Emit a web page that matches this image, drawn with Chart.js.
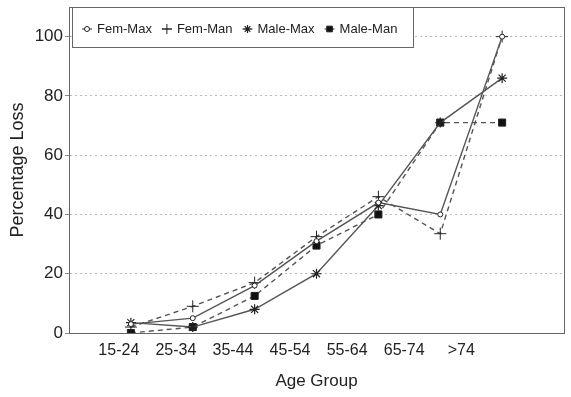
<!DOCTYPE html>
<html>
<head>
<meta charset="utf-8">
<script src="https://cdn.jsdelivr.net/npm/chart.js@4/dist/chart.umd.min.js"></script>
<style>
  html, body { margin: 0; padding: 0; background: #fff; }
  #wrap { width: 571px; height: 397px; }
</style>
</head>
<body>
<div id="wrap"><canvas id="mycanvas" width="571" height="397"></canvas></div>
<script>
// data
var ageGroups = ["15-24", "25-34", "35-44", "45-54", "55-64", "65-74", ">74"];
var femMax  = [3, 5, 16, 31, 44, 40, 100];
var femMan  = [2, 9, 17, 32.5, 46, 33.5, 100];
var maleMax = [3.5, 2, 8, 20, 43, 71, 86];
var maleMan = [0, 2, 12.5, 29.5, 40, 71, 71];
var yTicks  = [0, 20, 40, 60, 80, 100];

var FONT = "'Liberation Sans', Arial, Helvetica, sans-serif";
var INK = "#222";
var LINE = "#555";

function pts(arr) {
	return arr.map(function(v, i) { return {x: i, y: v}; });
}

var series = [
	{label: "Fem-Max",  data: femMax,  dash: [],     style: "circle", r: 2.5, fill: "#fff", bw: 1},
	{label: "Fem-Man",  data: femMan,  dash: [5, 4], style: "cross",  r: 6,   fill: "#333", bw: 1},
	{label: "Male-Max", data: maleMax, dash: [],     style: "star",   r: 5,   fill: "#333", bw: 1.2},
	{label: "Male-Man", data: maleMan, dash: [5, 4], style: "rect",   r: 5,   fill: "#111", bw: 1}
];

var datasets = series.map(function(s) {
	return {
		label: s.label,
		data: pts(s.data),
		borderColor: LINE,
		borderWidth: 1.4,
		borderDash: s.dash,
		tension: 0,
		pointStyle: s.style,
		pointRadius: s.r,
		pointBackgroundColor: s.fill,
		pointBorderColor: "#222",
		pointBorderWidth: s.bw,
		fill: false
	};
});

// box round the plot, and the boxed legend in its top-left corner
var framePlugin = {
	id: "frame",
	afterDraw: function(chart) {
		var ctx = chart.ctx, a = chart.chartArea;
		ctx.save();
		ctx.strokeStyle = "#666";
		ctx.lineWidth = 1;
		ctx.setLineDash([]);
		ctx.strokeRect(a.left + 0.5, a.top + 0.5, a.right - a.left, a.bottom - a.top);

		var bx = a.left + 3, by = a.top, bw = 341, bh = 40;
		ctx.fillStyle = "#fff";
		ctx.fillRect(bx, by, bw, bh);
		ctx.strokeRect(bx + 0.5, by + 0.5, bw, bh);

		ctx.font = "13px " + FONT;
		ctx.fillStyle = INK;
		ctx.textBaseline = "middle";
		var x = bx + 10, y = by + 22;
		series.forEach(function(s) {
			ctx.strokeStyle = LINE;
			ctx.lineWidth = 1.3;
			ctx.beginPath();
			ctx.moveTo(x, y);
			ctx.lineTo(x + 10, y);
			ctx.stroke();
			ctx.fillStyle = s.fill;
			ctx.strokeStyle = "#222";
			ctx.lineWidth = s.bw;
			Chart.helpers.drawPoint(ctx, {pointStyle: s.style, radius: s.style === "circle" ? 2.5 : s.r - 1, borderWidth: s.bw}, x + 5, y);
			ctx.fillStyle = INK;
			ctx.fillText(s.label, x + 15, y);
			x += 15 + ctx.measureText(s.label).width + 10;
		});
		ctx.restore();
	}
};

var ctx = document.getElementById("mycanvas");

var lineGraph = new Chart(ctx, {
	type: "line",
	data: {datasets: datasets},
	plugins: [framePlugin],
	options: {
		responsive: false,
		animation: false,
		layout: {padding: {top: 4, right: 5, left: 0, bottom: 0}},
		plugins: {legend: {display: false}, tooltip: {enabled: false}},
		scales: {
			x: {
				type: "linear",
				display: false,
				min: -1,
				max: 7
			},
			xl: {
				type: "linear",
				position: "bottom",
				min: -0.873,
				max: 7.8,
				afterBuildTicks: function(s) {
					s.ticks = ageGroups.map(function(_, i) { return {value: i}; });
				},
				afterFit: function(s) { s.height = 64; s.paddingLeft = 0; s.paddingRight = 0; },
				grid: {display: false, drawTicks: false},
				border: {display: true, color: "#666", width: 1},
				ticks: {
					autoSkip: false,
					maxRotation: 0,
					padding: 8,
					color: INK,
					font: {family: FONT, size: 16},
					callback: function(v) { return ageGroups[v]; }
				},
				title: {
					display: true,
					text: "Age Group",
					color: INK,
					font: {family: FONT, size: 17},
					padding: {top: 0, bottom: 5}
				}
			},
			y: {
				min: 0,
				max: 110,
				afterBuildTicks: function(s) {
					s.ticks = yTicks.map(function(v) { return {value: v}; });
				},
				afterFit: function(s) { s.width = 69; s.paddingTop = 0; s.paddingBottom = 0; },
				grid: {color: "#bbb", lineWidth: 1, tickLength: 4, tickColor: "#888"},
				border: {display: true, color: "#666", width: 1, dash: [2, 3]},
				ticks: {
					padding: 2,
					color: INK,
					font: {family: FONT, size: 17}
				},
				title: {
					display: true,
					text: "Percentage Loss",
					color: INK,
					font: {family: FONT, size: 18},
					padding: {top: 7, bottom: 0}
				}
			}
		}
	}
});
</script>
</body>
</html>
